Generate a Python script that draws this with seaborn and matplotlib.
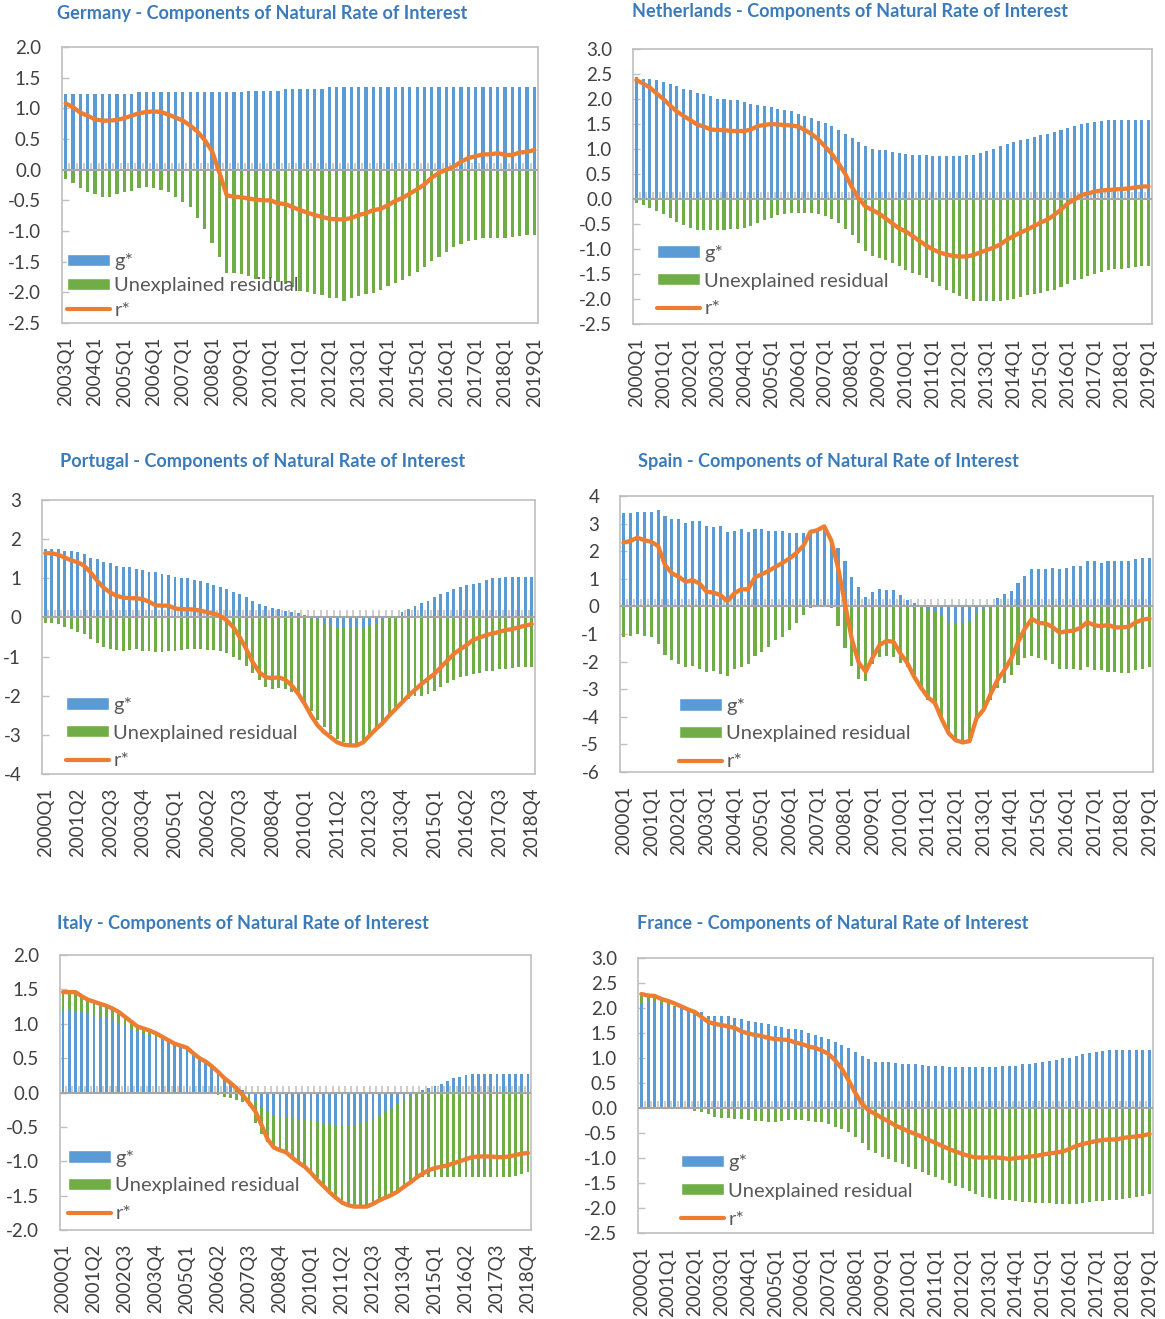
import numpy as np
import matplotlib
matplotlib.use("Agg")
import matplotlib.pyplot as plt
from matplotlib.patches import Patch
from matplotlib.lines import Line2D
import seaborn as sns

sns.set_style("white")
plt.rcParams['font.family'] = ['Lato', 'DejaVu Sans']

BLUE = '#5b9bd5'
GREEN = '#70ad47'
ORANGE = '#ed7d31'
GRID = '#bfbfbf'
TXT = '#404040'
TITLE = '#3b7bbb'

# ---------------- data ----------------
de_start = 2003
de_g = [1.23, 1.23, 1.23, 1.23, 1.23, 1.23, 1.23, 1.23, 1.23, 1.23,
        1.26, 1.26, 1.26, 1.26, 1.26, 1.26, 1.26, 1.26, 1.26, 1.26,
        1.26, 1.26, 1.26, 1.26, 1.26, 1.28, 1.28, 1.28, 1.28, 1.28,
        1.31, 1.31, 1.31, 1.31, 1.31, 1.31, 1.34, 1.34, 1.34, 1.34,
        1.34, 1.34, 1.35, 1.35, 1.35, 1.35, 1.35, 1.35, 1.35, 1.35,
        1.35, 1.35, 1.35, 1.35, 1.35, 1.35, 1.35, 1.35, 1.35, 1.35,
        1.35, 1.35, 1.35, 1.35, 1.35]
de_u = [-0.15, -0.22, -0.30, -0.36, -0.40, -0.44, -0.44, -0.40, -0.37, -0.34,
        -0.30, -0.28, -0.30, -0.33, -0.36, -0.44, -0.52, -0.61, -0.78, -0.96,
        -1.20, -1.43, -1.68, -1.69, -1.70, -1.74, -1.78, -1.78, -1.76, -1.83,
        -1.86, -1.92, -1.98, -1.99, -2.03, -2.05, -2.09, -2.10, -2.14, -2.10,
        -2.06, -2.03, -2.01, -1.96, -1.90, -1.85, -1.80, -1.74, -1.67, -1.58,
        -1.49, -1.42, -1.34, -1.26, -1.21, -1.16, -1.14, -1.12, -1.12, -1.12,
        -1.12, -1.10, -1.08, -1.07, -1.07]
de_r = [1.08, 1.02, 0.93, 0.88, 0.82, 0.80, 0.80, 0.81, 0.84, 0.88,
        0.92, 0.94, 0.95, 0.94, 0.90, 0.85, 0.80, 0.72, 0.62, 0.48,
        0.30, -0.05, -0.42, -0.44, -0.45, -0.47, -0.49, -0.50, -0.50, -0.55,
        -0.56, -0.61, -0.66, -0.70, -0.74, -0.77, -0.80, -0.81, -0.81, -0.79,
        -0.74, -0.71, -0.66, -0.64, -0.58, -0.51, -0.46, -0.39, -0.32, -0.24,
        -0.13, -0.05, 0.00, 0.05, 0.13, 0.19, 0.22, 0.25, 0.25, 0.27,
        0.24, 0.24, 0.28, 0.29, 0.32]

nl_start = 2000
nl_g = [2.43, 2.41, 2.40, 2.38, 2.35, 2.31, 2.27, 2.21, 2.18, 2.13,
        2.11, 2.07, 2.01, 2.01, 1.98, 1.98, 1.95, 1.91, 1.88, 1.86,
        1.85, 1.81, 1.79, 1.76, 1.71, 1.66, 1.63, 1.57, 1.53, 1.47,
        1.39, 1.30, 1.23, 1.15, 1.07, 1.01, 0.98, 0.98, 0.95, 0.93,
        0.91, 0.89, 0.88, 0.88, 0.86, 0.86, 0.86, 0.86, 0.87, 0.88,
        0.89, 0.93, 0.96, 1.01, 1.07, 1.10, 1.15, 1.18, 1.21, 1.25,
        1.28, 1.31, 1.35, 1.39, 1.43, 1.47, 1.50, 1.53, 1.55, 1.57,
        1.59, 1.59, 1.59, 1.59, 1.59, 1.59, 1.59]
nl_u = [-0.07, -0.11, -0.17, -0.23, -0.30, -0.37, -0.45, -0.52, -0.57, -0.61,
        -0.62, -0.62, -0.62, -0.61, -0.59, -0.59, -0.57, -0.54, -0.47, -0.42,
        -0.37, -0.32, -0.29, -0.27, -0.27, -0.27, -0.27, -0.29, -0.33, -0.39,
        -0.47, -0.59, -0.72, -0.87, -1.03, -1.14, -1.17, -1.22, -1.27, -1.33,
        -1.41, -1.47, -1.52, -1.57, -1.65, -1.73, -1.81, -1.87, -1.94, -1.99,
        -2.03, -2.04, -2.04, -2.04, -2.04, -2.02, -1.99, -1.95, -1.92, -1.89,
        -1.87, -1.84, -1.81, -1.75, -1.69, -1.62, -1.59, -1.53, -1.49, -1.45,
        -1.42, -1.40, -1.39, -1.37, -1.35, -1.34, -1.33]
nl_r = [2.38, 2.31, 2.23, 2.11, 2.00, 1.87, 1.75, 1.66, 1.58, 1.49,
        1.45, 1.39, 1.38, 1.38, 1.36, 1.36, 1.36, 1.39, 1.46, 1.48,
        1.50, 1.49, 1.48, 1.47, 1.45, 1.38, 1.30, 1.19, 1.05, 0.90,
        0.71, 0.50, 0.23, 0.01, -0.15, -0.22, -0.29, -0.39, -0.49, -0.59,
        -0.65, -0.74, -0.84, -0.93, -1.01, -1.07, -1.11, -1.14, -1.15, -1.15,
        -1.12, -1.07, -1.02, -0.97, -0.91, -0.81, -0.74, -0.67, -0.61, -0.54,
        -0.47, -0.41, -0.32, -0.21, -0.09, -0.01, 0.08, 0.11, 0.15, 0.17,
        0.18, 0.19, 0.20, 0.21, 0.23, 0.25, 0.25]

pt_start = 2000
pt_g = [1.74, 1.74, 1.74, 1.70, 1.70, 1.66, 1.62, 1.53, 1.49, 1.41,
        1.38, 1.32, 1.30, 1.30, 1.25, 1.21, 1.17, 1.17, 1.12, 1.08,
        1.04, 1.02, 1.00, 0.96, 0.92, 0.88, 0.83, 0.79, 0.72, 0.66,
        0.59, 0.51, 0.42, 0.34, 0.28, 0.25, 0.21, 0.17, 0.14, 0.11,
        0.06, -0.01, -0.04, -0.13, -0.19, -0.24, -0.27, -0.27, -0.27, -0.24,
        -0.19, -0.13, -0.07, -0.02, 0.04, 0.13, 0.21, 0.30, 0.38, 0.42,
        0.51, 0.59, 0.66, 0.72, 0.79, 0.82, 0.85, 0.89, 0.95, 1.00,
        1.02, 1.04, 1.04, 1.04, 1.04, 1.04]
pt_u = [-0.13, -0.14, -0.17, -0.25, -0.30, -0.36, -0.42, -0.55, -0.66, -0.76,
        -0.81, -0.83, -0.85, -0.83, -0.81, -0.85, -0.87, -0.89, -0.89, -0.87,
        -0.87, -0.83, -0.81, -0.81, -0.81, -0.83, -0.83, -0.85, -0.91, -1.00,
        -1.10, -1.23, -1.42, -1.61, -1.78, -1.83, -1.80, -1.83, -1.91, -2.00,
        -2.17, -2.37, -2.59, -2.67, -2.78, -2.86, -2.92, -2.98, -3.00, -2.90,
        -2.78, -2.69, -2.61, -2.49, -2.34, -2.21, -2.08, -2.02, -2.00, -1.95,
        -1.89, -1.78, -1.68, -1.60, -1.53, -1.49, -1.44, -1.42, -1.38, -1.36,
        -1.33, -1.32, -1.30, -1.27, -1.26, -1.26]
pt_r = [1.64, 1.64, 1.60, 1.53, 1.46, 1.41, 1.32, 1.15, 0.94, 0.76,
        0.64, 0.55, 0.51, 0.49, 0.49, 0.47, 0.40, 0.31, 0.30, 0.30,
        0.23, 0.21, 0.21, 0.20, 0.17, 0.13, 0.10, 0.04, -0.08, -0.25,
        -0.51, -0.81, -1.15, -1.40, -1.53, -1.55, -1.53, -1.59, -1.74, -1.95,
        -2.21, -2.51, -2.76, -2.93, -3.06, -3.19, -3.25, -3.27, -3.27, -3.19,
        -3.02, -2.85, -2.70, -2.51, -2.34, -2.17, -2.00, -1.85, -1.70, -1.57,
        -1.44, -1.27, -1.10, -0.93, -0.81, -0.70, -0.57, -0.51, -0.45, -0.41,
        -0.37, -0.32, -0.30, -0.25, -0.21, -0.17]

es_start = 2000
es_g = [3.37, 3.37, 3.43, 3.43, 3.43, 3.49, 3.27, 3.15, 3.15, 3.03,
        3.09, 3.09, 2.91, 2.86, 2.91, 2.68, 2.74, 2.79, 2.68, 2.79,
        2.80, 2.75, 2.75, 2.75, 2.67, 2.67, 2.67, 2.67, 2.70, 2.72,
        2.40, 2.10, 1.64, 1.05, 0.71, 0.35, 0.53, 0.63, 0.59, 0.59,
        0.41, 0.23, 0.11, 0.00, -0.13, -0.16, -0.35, -0.52, -0.59, -0.59,
        -0.55, -0.28, -0.11, 0.00, 0.29, 0.45, 0.57, 0.86, 1.10, 1.34,
        1.34, 1.34, 1.39, 1.34, 1.39, 1.46, 1.46, 1.64, 1.64, 1.58,
        1.64, 1.64, 1.64, 1.64, 1.70, 1.75, 1.75]
es_u = [-1.12, -1.06, -1.00, -1.06, -1.12, -1.37, -1.77, -1.95, -2.07, -2.19,
        -2.15, -2.25, -2.39, -2.33, -2.45, -2.52, -2.25, -2.19, -2.07, -1.79,
        -1.64, -1.46, -1.22, -1.10, -0.86, -0.59, -0.31, -0.07, 0.05, 0.15,
        -0.07, -0.71, -1.52, -2.16, -2.63, -2.69, -2.07, -1.82, -1.80, -1.82,
        -2.04, -2.21, -2.49, -3.03, -3.26, -3.41, -3.65, -4.05, -4.25, -4.35,
        -4.32, -3.81, -3.65, -3.39, -2.97, -2.77, -2.49, -2.13, -1.88, -1.80,
        -1.88, -1.94, -2.07, -2.25, -2.25, -2.28, -2.31, -2.19, -2.31, -2.31,
        -2.37, -2.37, -2.40, -2.40, -2.31, -2.25, -2.19]
es_r = [2.31, 2.37, 2.49, 2.40, 2.34, 2.19, 1.50, 1.20, 1.07, 0.89,
        0.95, 0.83, 0.53, 0.50, 0.41, 0.19, 0.47, 0.62, 0.62, 1.05,
        1.17, 1.29, 1.44, 1.58, 1.74, 1.94, 2.20, 2.70, 2.76, 2.90,
        2.40, 1.40, 0.10, -1.20, -2.05, -2.36, -1.85, -1.40, -1.25, -1.28,
        -1.70, -2.05, -2.55, -2.95, -3.30, -3.50, -4.10, -4.60, -4.85, -4.93,
        -4.88, -4.05, -3.75, -3.20, -2.68, -2.32, -1.90, -1.30, -0.80, -0.45,
        -0.60, -0.62, -0.75, -0.95, -0.90, -0.88, -0.78, -0.57, -0.68, -0.72,
        -0.67, -0.76, -0.76, -0.74, -0.58, -0.48, -0.44]

it_start = 2000
it_g = [1.20, 1.20, 1.18, 1.17, 1.15, 1.12, 1.10, 1.08, 1.05, 1.00,
        0.97, 0.93, 0.90, 0.87, 0.84, 0.80, 0.77, 0.73, 0.70, 0.66,
        0.63, 0.57, 0.50, 0.45, 0.38, 0.30, 0.22, 0.15, 0.09, 0.04,
        -0.03, -0.12, -0.22, -0.28, -0.33, -0.35, -0.36, -0.37, -0.38, -0.40,
        -0.41, -0.43, -0.45, -0.46, -0.48, -0.49, -0.49, -0.48, -0.46, -0.43,
        -0.39, -0.34, -0.29, -0.24, -0.17, -0.10, -0.05, -0.01, 0.03, 0.07,
        0.10, 0.13, 0.17, 0.21, 0.23, 0.25, 0.27, 0.27, 0.27, 0.27,
        0.27, 0.27, 0.27, 0.27, 0.27, 0.27]
it_u = [0.26, 0.26, 0.28, 0.23, 0.20, 0.20, 0.19, 0.18, 0.17, 0.17,
        0.13, 0.10, 0.06, 0.06, 0.06, 0.06, 0.04, 0.03, 0.01, 0.02,
        0.02, 0.00, -0.01, -0.02, -0.02, -0.04, -0.06, -0.08, -0.11, -0.14,
        -0.17, -0.33, -0.38, -0.44, -0.47, -0.49, -0.50, -0.55, -0.62, -0.67,
        -0.74, -0.82, -0.90, -0.99, -1.07, -1.13, -1.16, -1.18, -1.20, -1.22,
        -1.23, -1.24, -1.26, -1.26, -1.28, -1.28, -1.27, -1.25, -1.23, -1.23,
        -1.23, -1.23, -1.23, -1.23, -1.23, -1.23, -1.23, -1.23, -1.23, -1.23,
        -1.23, -1.23, -1.23, -1.21, -1.18, -1.16]
it_r = [1.46, 1.46, 1.46, 1.40, 1.35, 1.32, 1.29, 1.26, 1.22, 1.17,
        1.10, 1.03, 0.96, 0.93, 0.90, 0.86, 0.81, 0.76, 0.71, 0.68,
        0.65, 0.57, 0.50, 0.45, 0.38, 0.30, 0.21, 0.14, 0.06, -0.04,
        -0.15, -0.27, -0.47, -0.68, -0.80, -0.84, -0.87, -0.95, -1.02, -1.08,
        -1.17, -1.27, -1.36, -1.45, -1.53, -1.60, -1.64, -1.66, -1.66, -1.66,
        -1.62, -1.57, -1.53, -1.49, -1.44, -1.37, -1.31, -1.24, -1.18, -1.13,
        -1.10, -1.08, -1.06, -1.03, -1.00, -0.97, -0.94, -0.93, -0.93, -0.93,
        -0.94, -0.94, -0.93, -0.91, -0.89, -0.88]

fr_start = 2000
fr_g = [2.10, 2.12, 2.12, 2.08, 2.05, 2.02, 2.00, 1.97, 1.93, 1.92,
        1.85, 1.85, 1.84, 1.84, 1.80, 1.78, 1.75, 1.72, 1.70, 1.68,
        1.65, 1.62, 1.58, 1.58, 1.56, 1.50, 1.46, 1.43, 1.38, 1.33,
        1.27, 1.20, 1.13, 1.05, 0.98, 0.92, 0.92, 0.92, 0.90, 0.88,
        0.88, 0.88, 0.87, 0.85, 0.85, 0.85, 0.83, 0.82, 0.82, 0.82,
        0.82, 0.82, 0.82, 0.83, 0.84, 0.85, 0.85, 0.88, 0.89, 0.91,
        0.92, 0.94, 0.97, 1.00, 1.01, 1.05, 1.08, 1.11, 1.13, 1.15,
        1.17, 1.17, 1.17, 1.17, 1.17, 1.17, 1.17]
fr_u = [0.15, 0.12, 0.10, 0.08, 0.06, 0.03, 0.00, -0.02, -0.06, -0.08,
        -0.12, -0.17, -0.20, -0.20, -0.22, -0.22, -0.24, -0.26, -0.26, -0.28,
        -0.27, -0.26, -0.24, -0.23, -0.23, -0.25, -0.27, -0.28, -0.32, -0.38,
        -0.42, -0.48, -0.58, -0.70, -0.83, -0.90, -0.97, -1.02, -1.08, -1.12,
        -1.17, -1.22, -1.27, -1.33, -1.38, -1.44, -1.50, -1.55, -1.60, -1.66,
        -1.72, -1.77, -1.80, -1.82, -1.83, -1.84, -1.85, -1.87, -1.88, -1.90,
        -1.90, -1.90, -1.91, -1.91, -1.91, -1.91, -1.90, -1.88, -1.86, -1.85,
        -1.84, -1.83, -1.81, -1.80, -1.78, -1.75, -1.72]
fr_r = [2.28, 2.25, 2.24, 2.18, 2.14, 2.09, 2.03, 1.97, 1.92, 1.82,
        1.72, 1.68, 1.66, 1.63, 1.60, 1.53, 1.49, 1.46, 1.44, 1.40,
        1.38, 1.37, 1.36, 1.31, 1.28, 1.23, 1.20, 1.15, 1.08, 0.95,
        0.78, 0.55, 0.30, 0.08, -0.05, -0.12, -0.20, -0.27, -0.35, -0.41,
        -0.47, -0.52, -0.58, -0.64, -0.70, -0.76, -0.82, -0.87, -0.92, -0.96,
        -0.99, -0.99, -0.99, -0.99, -1.00, -1.02, -1.00, -0.99, -0.97, -0.96,
        -0.93, -0.91, -0.89, -0.87, -0.82, -0.76, -0.72, -0.69, -0.66, -0.64,
        -0.63, -0.63, -0.60, -0.58, -0.57, -0.55, -0.52]

W, H = 1165, 1319

# name, start year, series, y range/ticks, tick format, label step,
# plot box (px: left, top, right, bottom), title pos, legend anchor (px)
panels = [
    ("Germany", de_start, de_g, de_u, de_r, (-2.5, 2.0), 0.5, "{:.1f}", 4,
     (62, 47, 538, 323), (57, 14), (67, 286), 0.36),
    ("Netherlands", nl_start, nl_g, nl_u, nl_r, (-2.5, 3.0), 0.5, "{:.1f}", 4,
     (633, 49, 1152, 324), (632, 11), (657, 281), 0.54),
    ("Portugal", pt_start, pt_g, pt_u, pt_r, (-4, 3), 1, "{:.0f}", 5,
     (42, 500, 535, 774), (60, 461), (66, 733), 0.54),
    ("Spain", es_start, es_g, es_u, es_r, (-6, 4), 1, "{:.0f}", 4,
     (620, 496, 1153, 772), (638, 461), (679, 734), 0.54),
    ("Italy", it_start, it_g, it_u, it_r, (-2.0, 2.0), 0.5, "{:.1f}", 5,
     (60, 955, 531, 1230), (57, 923), (68, 1186), 0.54),
    ("France", fr_start, fr_g, fr_u, fr_r, (-2.5, 3.0), 0.5, "{:.1f}", 4,
     (638, 958, 1153, 1233), (637, 924), (681, 1191), 0.57),
]

fig = plt.figure(figsize=(W / 100, H / 100), dpi=100)
fig.patch.set_facecolor("white")

for (name, start, g, u, r, (ylo, yhi), ystep, fmt, lstep,
     (l, t, rr, b), (tx, ty), (lx, ly), lspace) in panels:
    n = len(g)
    quarters = [f"{start + k // 4}Q{k % 4 + 1}" for k in range(n)]
    x = np.arange(n)
    g = np.array(g)
    u = np.array(u)

    ax = fig.add_axes([l / W, 1 - b / H, (rr - l) / W, (b - t) / H])

    # Excel-style stacking: same-sign parts pile up, opposite signs start at 0
    u_bottom = np.where(np.sign(u) == np.sign(g), g, 0)

    # small category tick marks sitting on the zero line
    tick_h = (yhi - ylo) * 7 / (b - t)
    ax.vlines(x + 0.5, 0, tick_h, color="#c8c8c8", lw=1.3, zorder=1)

    ax.bar(x, g, width=0.45, color=BLUE, zorder=2, linewidth=0)
    ax.bar(x, u, bottom=u_bottom, width=0.45, color=GREEN, zorder=2, linewidth=0)
    ax.axhline(0, color="#a6a6a6", lw=1.5, zorder=3)
    sns.lineplot(x=x, y=r, ax=ax, color=ORANGE, lw=3.1, zorder=4)

    ax.set_xlim(-0.5, n - 0.5)
    ax.set_ylim(ylo, yhi)
    yt = np.arange(ylo, yhi + ystep / 2, ystep)
    ax.set_yticks(yt)
    ax.set_yticklabels([fmt.format(v + 0.0) for v in yt])
    ax.set_xticks(x[::lstep])
    ax.set_xticklabels(quarters[::lstep], rotation=90)

    ax.tick_params(axis="y", direction="in", length=5, width=1, color=GRID,
                   labelsize=13.5, labelcolor=TXT, pad=15, left=True)
    ax.tick_params(axis="x", length=0, labelsize=13.5, labelcolor=TXT, pad=10)
    for s in ax.spines.values():
        s.set_color(GRID)
        s.set_linewidth(1.2)
    ax.set_xlabel("")
    ax.set_ylabel("")

    handles = [Patch(facecolor=BLUE), Patch(facecolor=GREEN),
               Line2D([0], [0], color=ORANGE, lw=3)]
    leg = ax.legend(handles, ["g*", "Unexplained residual", "r*"],
                    loc="center left", bbox_to_anchor=(lx / W, 1 - ly / H),
                    bbox_transform=fig.transFigure, frameon=False,
                    fontsize=14.5, handlelength=2.15, handleheight=0.55,
                    handletextpad=0.2, labelspacing=lspace, borderpad=0,
                    borderaxespad=0)
    for txt in leg.get_texts():
        txt.set_color("#595959")

    fig.text(tx / W, 1 - ty / H,
             f"{name} - Components of Natural Rate of Interest",
             ha="left", va="center", fontsize=13.1, fontweight="bold",
             color=TITLE)

fig.savefig("out.png", dpi=100, facecolor="white")
